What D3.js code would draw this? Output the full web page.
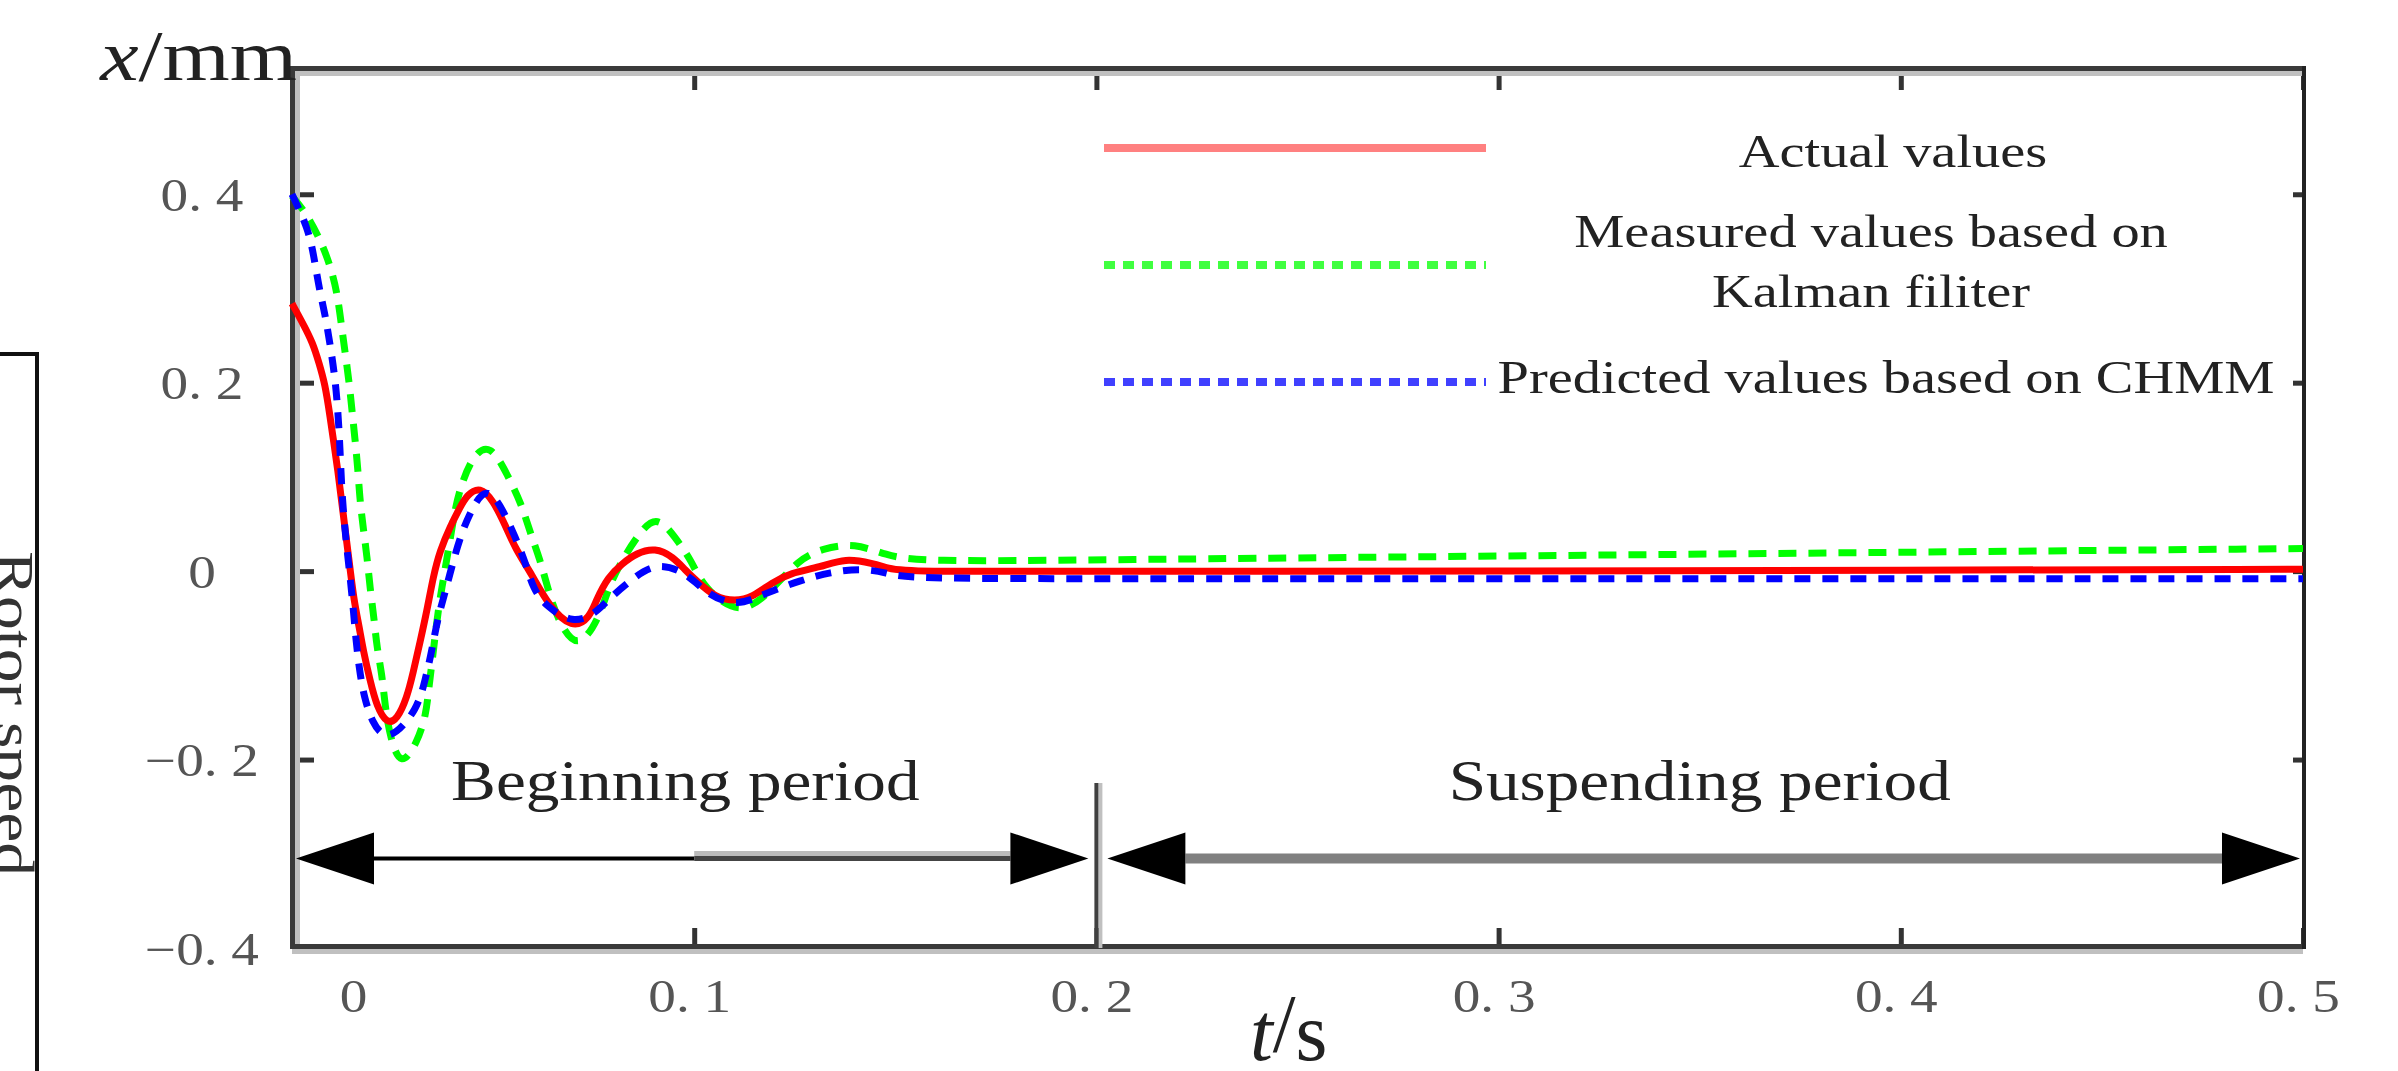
<!DOCTYPE html>
<html>
<head>
<meta charset="utf-8">
<script src="https://cdn.jsdelivr.net/npm/d3@7"></script>
<style>
  body { margin: 0; background: #fff; }
  svg { display: block; }
  text { font-family: "Liberation Serif", "Times New Roman", serif; }
</style>
</head>
<body>
<div id="chart"></div>
<script>
// values (t in s, x in mm)
let tActual = [0, .0027, .0052, .0067, .0082, .0095, .0104, .0114, .0124, .0144, .0154, .0167, .0177, .0194, .0211, .0236, .0261, .0286, .0301, .0318, .0336, .0351, .0368, .0393, .0418, .0435, .0468, .05, .053, .0555, .0597, .0637, .0697, .0741, .0756, .0786, .0821, .0856, .0903, .0948, .0978, .1005, .1052, .1102, .1144, .1194, .1239, .1313, .1376, .1445, .1483, .1525, .2, .3, .4, .5]
let vActual = [.284, .263, .242, .221, .199, .163, .136, .107, .072, .004, -.031, -.059, -.084, -.116, -.144, -.162, -.158, -.134, -.108, -.076, -.041, -.006, .022, .047, .068, .081, .09, .075, .049, .024, -.004, -.036, -.062, -.049, -.031, -.006, .008, .019, .025, .015, .001, -.01, -.028, -.032, -.028, -.012, -.002, .004, .014, .008, .003, -.001, 0, 0, .001, .002]

let tMeasured = [0, .0032, .0067, .0095, .0112, .0122, .0132, .0142, .0149, .0157, .0164, .0169, .0177, .0187, .0194, .0204, .0211, .0224, .0231, .0244, .0271, .0311, .0333, .0341, .0351, .0358, .0368, .0381, .0393, .0405, .042, .045, .0493, .0537, .057, .0592, .0617, .0637, .0659, .0709, .0764, .0786, .0816, .0856, .0905, .0953, .0995, .1022, .1114, .1194, .1259, .1318, .14, .1475, .1562, .2, .3, .4, .5]
let vMeasured = [.398, .382, .355, .325, .296, .264, .232, .201, .171, .139, .107, .075, .046, .014, -.018, -.05, -.081, -.11, -.142, -.177, -.209, -.182, -.154, -.121, -.087, -.06, -.029, .003, .033, .065, .091, .123, .136, .101, .072, .041, .012, -.02, -.05, -.086, -.05, -.018, .008, .036, .061, .036, .01, -.017, -.049, -.02, .012, .024, .03, .017, .01, .012, .016, .02, .024]

let tPredicted = [0, .004, .0055, .0067, .0082, .0095, .0107, .0114, .0119, .0124, .0134, .0144, .0152, .0159, .0167, .0179, .0201, .0226, .0256, .0311, .0331, .0348, .0361, .0383, .0398, .0418, .0443, .0483, .0525, .0555, .058, .06, .0634, .0699, .0754, .0784, .0841, .0905, .0983, .1032, .1107, .1179, .1264, .1338, .1418, .148, .1525, .2, .3, .4, .5]
let vPredicted = [.4, .364, .333, .301, .273, .24, .205, .171, .134, .081, .033, -.004, -.038, -.073, -.103, -.134, -.162, -.175, -.174, -.147, -.116, -.084, -.052, -.019, .006, .036, .063, .092, .065, .036, .01, -.02, -.038, -.056, -.045, -.031, -.01, .01, -.002, -.025, -.038, -.023, -.01, -.001, .003, -.002, -.008, -.008, -.008, -.008, -.008]

let xTicks = [0, 0.1, 0.2, 0.3, 0.4, 0.5]
let yTicks = [-0.4, -0.2, 0, 0.2, 0.4]
let legendLabels = [['Actual values'], ['Measured values based on', 'Kalman filiter'], ['Predicted values based on CHMM']]
let periodLabels = ['Beginning period', 'Suspending period']
let periodBounds = [0, 0.2, 0.5]

let width = 2398
let height = 1071
let stretch = 1.2 // the picture's lettering is wider than Times

let svg = d3.select('#chart').append('svg')
  .attr('width', width)
  .attr('height', height)

let x = d3.scaleLinear().domain([0, 0.5]).range([292, 2303])
let y = d3.scaleLinear().domain([-0.4, 0.534]).range([948, 68])

let fmt = d => d === 0 ? '0' : d3.format('.1f')(d).replace('.', '. ').replace('-', '\u2212')

// cut-off panel on the far left
svg.append('rect')
  .attr('x', -10).attr('y', 354)
  .attr('width', 47).attr('height', 740)
  .attr('fill', 'none')
  .attr('stroke', '#111')
  .attr('stroke-width', 4)
svg.append('text')
  .attr('class', 'keep')
  .attr('transform', 'translate(-4,551) rotate(90)')
  .attr('font-size', 54)
  .attr('fill', '#333')
  .attr('textLength', 325)
  .attr('lengthAdjust', 'spacingAndGlyphs')
  .text('Rotor speed')

// axes
let yAxis = svg.append('g')
  .attr('transform', `translate(${x(0)},0)`)
  .call(d3.axisLeft(y).tickValues(yTicks).tickSize(-22).tickFormat(fmt))
let yAxisR = svg.append('g')
  .attr('transform', `translate(${x(0.5)},0)`)
  .call(d3.axisRight(y).tickValues(yTicks).tickSize(-10).tickFormat(''))
let xAxis = svg.append('g')
  .attr('transform', `translate(0,${y(-0.4)})`)
  .call(d3.axisBottom(x).tickValues(xTicks).tickSize(-20).tickFormat(fmt))
let xAxisT = svg.append('g')
  .attr('transform', `translate(0,${y(0.534)})`)
  .call(d3.axisTop(x).tickValues(xTicks).tickSize(-22).tickFormat(''))

;[yAxis, yAxisR, xAxis, xAxisT].forEach(g => {
  g.select('.domain').remove()
  g.selectAll('.tick line').attr('stroke', '#333').attr('stroke-width', 5)
})

yAxis.selectAll('.tick text')
  .attr('x', -90)
  .attr('dy', '0.35em')
  .attr('text-anchor', 'middle')
  .attr('font-size', 46)
  .attr('font-family', null)
  .attr('fill', '#555')

xAxis.selectAll('.tick text')
  .attr('y', 64)
  .attr('dy', null)
  .attr('x', d => d === 0 ? 61 : -5)
  .attr('font-size', 46)
  .attr('font-family', null)
  .attr('fill', '#555')

// plot frame
let frame = svg.append('g')
frame.append('line').attr('x1', 297.5).attr('x2', 297.5).attr('y1', 71).attr('y2', 944).attr('stroke', '#c0c0c0').attr('stroke-width', 5)
frame.append('line').attr('x1', 295).attr('x2', 2303).attr('y1', 73.5).attr('y2', 73.5).attr('stroke', '#c0c0c0').attr('stroke-width', 5)
frame.append('line').attr('x1', 292).attr('x2', 2303).attr('y1', 951.5).attr('y2', 951.5).attr('stroke', '#c0c0c0').attr('stroke-width', 5)
frame.append('line').attr('x1', 292.5).attr('x2', 292.5).attr('y1', 66).attr('y2', 949).attr('stroke', '#3a3a3a').attr('stroke-width', 5)
frame.append('line').attr('x1', 290).attr('x2', 2306).attr('y1', 68.5).attr('y2', 68.5).attr('stroke', '#3a3a3a').attr('stroke-width', 5)
frame.append('line').attr('x1', 290).attr('x2', 2306).attr('y1', 946.5).attr('y2', 946.5).attr('stroke', '#3a3a3a').attr('stroke-width', 5)
frame.append('line').attr('x1', 2304).attr('x2', 2304).attr('y1', 66).attr('y2', 949).attr('stroke', '#222').attr('stroke-width', 4)

// axis titles
let xt = svg.append('text')
  .attr('x', 297).attr('y', 80)
  .attr('text-anchor', 'end')
  .attr('font-size', 72)
  .attr('fill', '#222')
xt.append('tspan').attr('font-style', 'italic').text('x')
xt.append('tspan').text('/mm')

let tt = svg.append('text')
  .attr('class', 'keep')
  .attr('x', 1250).attr('y', 1060)
  .attr('font-size', 82)
  .attr('fill', '#222')
tt.append('tspan').attr('font-style', 'italic').text('t')
tt.append('tspan').attr('dy', -9).text('/')
tt.append('tspan').attr('dy', 9).text('s')

// period annotation
let arrowY = y(-0.305)
let ann = svg.append('g')
function arrowHead (tip, dir) {
  return `M${tip},${arrowY} L${tip - dir * 78},${arrowY - 26} L${tip - dir * 78},${arrowY + 26} Z`
}
let a1 = x(periodBounds[0]) + 4
let a2 = x(periodBounds[1]) - 8
let a3 = x(periodBounds[1]) + 11
let a4 = x(periodBounds[2]) - 3
ann.append('line').attr('x1', a1 + 78).attr('x2', x(0.1)).attr('y1', arrowY).attr('y2', arrowY).attr('stroke', '#000').attr('stroke-width', 4)
ann.append('line').attr('x1', x(0.1)).attr('x2', a2 - 78).attr('y1', arrowY - 5).attr('y2', arrowY - 5).attr('stroke', '#bbb').attr('stroke-width', 5)
ann.append('line').attr('x1', x(0.1)).attr('x2', a2 - 78).attr('y1', arrowY).attr('y2', arrowY).attr('stroke', '#444').attr('stroke-width', 5)
ann.append('line').attr('x1', a3 + 78).attr('x2', a4 - 78).attr('y1', arrowY).attr('y2', arrowY).attr('stroke', '#808080').attr('stroke-width', 10)
ann.append('path').attr('d', arrowHead(a1, -1)).attr('fill', '#000')
ann.append('path').attr('d', arrowHead(a2, 1)).attr('fill', '#000')
ann.append('path').attr('d', arrowHead(a3, -1)).attr('fill', '#000')
ann.append('path').attr('d', arrowHead(a4, 1)).attr('fill', '#000')
ann.append('line').attr('x1', x(0.2) + 4).attr('x2', x(0.2) + 4).attr('y1', y(-0.225)).attr('y2', y(-0.4)).attr('stroke', '#c0c0c0').attr('stroke-width', 4)
ann.append('line').attr('x1', x(0.2)).attr('x2', x(0.2)).attr('y1', y(-0.225)).attr('y2', y(-0.4)).attr('stroke', '#404040').attr('stroke-width', 4)

ann.selectAll('text.period')
  .data(periodLabels)
  .enter()
  .append('text')
  .attr('class', 'period')
  .attr('x', (d, i) => i === 0 ? x(0.0978) : x(0.350))
  .attr('y', y(-0.243))
  .attr('text-anchor', 'middle')
  .attr('font-size', 56)
  .attr('fill', '#222')
  .text(d => d)

// curves
let line = d3.line()
  .x(d => x(d[0]))
  .y(d => y(d[1]))
  .curve(d3.curveBasis)

let series = [
  { t: tMeasured, v: vMeasured, color: '#00ff00', dash: '18,12' },
  { t: tActual, v: vActual, color: '#ff0000', dash: null },
  { t: tPredicted, v: vPredicted, color: '#0000ff', dash: '16,12' }
]
svg.append('g')
  .selectAll('path')
  .data(series)
  .enter()
  .append('path')
  .attr('d', s => line(s.t.map((t, i) => [t, s.v[i]])))
  .attr('fill', 'none')
  .attr('stroke', s => s.color)
  .attr('stroke-width', 7)
  .attr('stroke-dasharray', s => s.dash)

// legend
let legendLines = [
  { y: 148, color: '#ff8080', dash: null },
  { y: 265, color: '#40ff40', dash: '11,8' },
  { y: 382, color: '#4040ff', dash: '11,8' }
]
let legendText = [
  { x: 1893, y: 167 },
  { x: 1871, y: 247 },
  { x: 1886, y: 393 }
]
let legend = svg.append('g')
legend.selectAll('line')
  .data(legendLines)
  .enter()
  .append('line')
  .attr('x1', 1104).attr('x2', 1486)
  .attr('y1', d => d.y).attr('y2', d => d.y)
  .attr('stroke', d => d.color)
  .attr('stroke-width', 8)
  .attr('stroke-dasharray', d => d.dash)
legendLabels.forEach((lines, i) => {
  lines.forEach((s, j) => {
    legend.append('text')
      .attr('x', legendText[i].x)
      .attr('y', legendText[i].y + j * 60)
      .attr('text-anchor', 'middle')
      .attr('font-size', 47)
      .attr('fill', '#222')
      .text(s)
  })
})

// widen the lettering like the picture
svg.selectAll('text:not(.keep)').each(function () {
  let w = this.getComputedTextLength()
  if (w > 0) {
    d3.select(this)
      .attr('textLength', w * stretch)
      .attr('lengthAdjust', 'spacingAndGlyphs')
  }
})
</script>
</body>
</html>
